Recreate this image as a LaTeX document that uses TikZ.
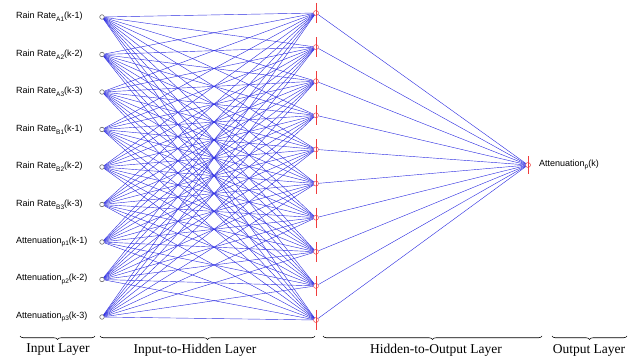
\documentclass[tikz,border=0pt]{standalone}
\usepackage{fontspec}
\setmainfont{Liberation Serif}
\newfontfamily\lsans{Liberation Sans}
\usetikzlibrary{decorations.pathreplacing}
\definecolor{wireblue}{RGB}{45,45,225}
\definecolor{nodered}{RGB}{240,60,60}
\newcommand{\lsub}[1]{\raisebox{-2.6pt}{\fontsize{6.5}{7}\selectfont #1}}
\begin{document}
\begin{tikzpicture}[x=1pt,y=-1pt,
  wire/.style={draw=wireblue, line width=0.42pt},
  innode/.style={circle, draw=black!65, line width=0.5pt, inner sep=0pt, minimum size=4.6pt},
  hidnode/.style={circle, draw=nodered, line width=0.45pt, inner sep=0pt, minimum size=5pt},
  tick/.style={draw=nodered, line width=0.45pt},
  inlabel/.style={anchor=west, font=\lsans\fontsize{9}{10}\selectfont, inner sep=0pt},
  layerlabel/.style={font=\fontsize{13.5}{15}\selectfont, inner sep=0pt},
  layerbrace/.style={decorate, decoration={brace, mirror, amplitude=3.5pt}, line width=0.6pt}
]
\useasboundingbox (0,0) rectangle (637,361);
% input nodes
\foreach \i in {0,...,8} \node[innode] (in\i) at (102,{17+37.5*\i}) {};
% hidden nodes
\foreach \j in {0,...,9} \node[hidnode] (h\j) at (316,{13+34.11*\j}) {};
% output node
\node[hidnode] (out) at (528,165) {};
% connections
\foreach \i in {0,...,8} \foreach \j in {0,...,9} \draw[wire] (in\i) -- (h\j);
\foreach \j in {0,...,9} \draw[wire] (h\j) -- (out);
% red ticks
\foreach \j in {0,...,9} \draw[tick] (h\j.center) ++(0,-10) -- ++(0,20);
\draw[tick] (out.center) ++(0,-9) -- ++(0,18);
% input labels
\node[inlabel] (l0) at (16,17) {Rain Rate\lsub{A1}(k-1)};
\node[inlabel] (l1) at (16,54.5) {Rain Rate\lsub{A2}(k-2)};
\node[inlabel] (l2) at (16,92) {Rain Rate\lsub{A3}(k-3)};
\node[inlabel] (l3) at (16,129.5) {Rain Rate\lsub{B1}(k-1)};
\node[inlabel] (l4) at (16,167) {Rain Rate\lsub{B2}(k-2)};
\node[inlabel] (l5) at (16,204.5) {Rain Rate\lsub{B3}(k-3)};
\node[inlabel] (l6) at (16,242) {Attenuation\lsub{p1}(k-1)};
\node[inlabel] (l7) at (16,279.5) {Attenuation\lsub{p2}(k-2)};
\node[inlabel] (l8) at (16,317) {Attenuation\lsub{p3}(k-3)};
\node[inlabel] (lo) at (539,165) {Attenuation\lsub{p}(k)};
% braces
\coordinate (b1a) at (20,336); \coordinate (b1b) at (95,336);
\coordinate (b2a) at (100,336); \coordinate (b2b) at (315,336);
\coordinate (b3a) at (323,336); \coordinate (b3b) at (542,336);
\coordinate (b4a) at (552,336); \coordinate (b4b) at (627,336);
\draw[layerbrace] (b1a) -- (b1b);
\draw[layerbrace] (b2a) -- (b2b);
\draw[layerbrace] (b3a) -- (b3b);
\draw[layerbrace] (b4a) -- (b4b);
\node[layerlabel] (t1) at (58,350) {Input Layer};
\node[layerlabel] (t2) at (195,350) {Input-to-Hidden Layer};
\node[layerlabel] (t3) at (436,350) {Hidden-to-Output Layer};
\node[layerlabel] (t4) at (589,350) {Output Layer};
\end{tikzpicture}
\end{document}
